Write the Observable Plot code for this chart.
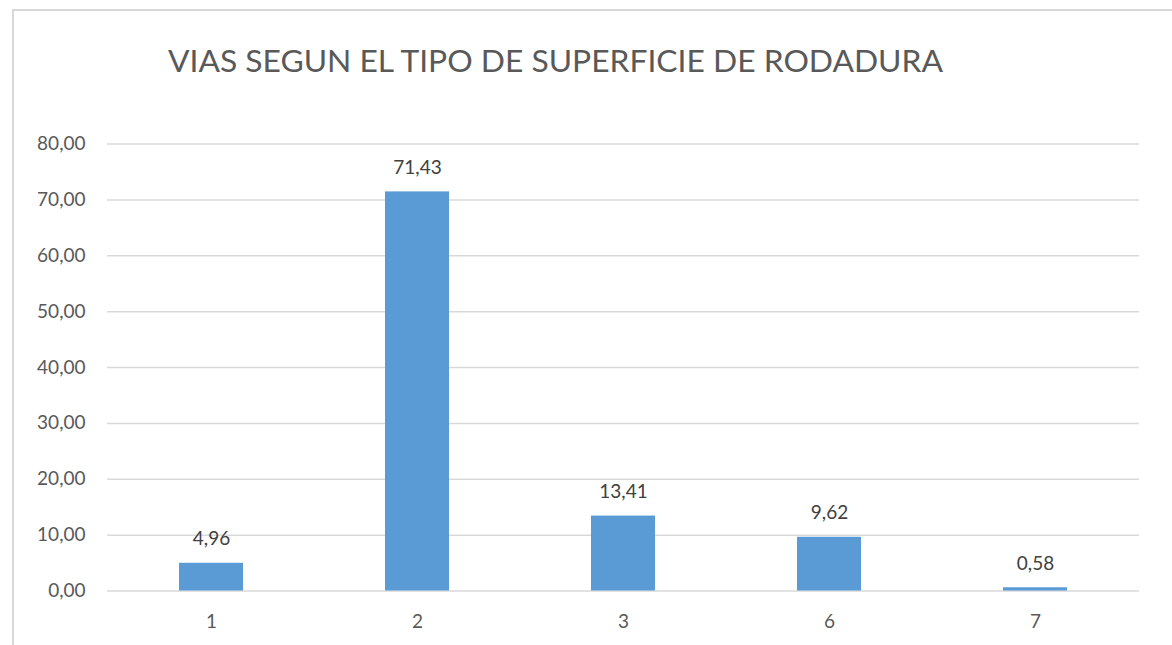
<!DOCTYPE html>
<html>
<head>
<meta charset="utf-8">
<script src="https://cdn.jsdelivr.net/npm/d3@7"></script>
<script src="https://cdn.jsdelivr.net/npm/@observablehq/plot@0.6"></script>
<style>
  html, body { margin: 0; padding: 0; background: #fff; }
  #wrap { position: relative; width: 1172px; height: 645px; overflow: hidden; font-family: Lato, "Open Sans", sans-serif; }
  #frame { position: absolute; left: 12px; top: 9px; width: 1300px; height: 800px; border-left: 2px solid #d9d9d9; border-top: 2px solid #d9d9d9; }
  #title { position: absolute; left: 168px; top: 45px; font-size: 31.8px; color: #595959; white-space: nowrap; line-height: 1; }
  #chart { position: absolute; left: 0; top: 0; }
</style>
</head>
<body>
<div id="wrap">
  <div id="frame"></div>
  <div id="chart"></div>
  <div id="title">VIAS SEGUN EL TIPO DE SUPERFICIE DE RODADURA</div>
</div>
<script>
const categories = ["1", "2", "3", "6", "7"];
const values = [4.96, 71.43, 13.41, 9.62, 0.58];
const yTicks = [0, 10, 20, 30, 40, 50, 60, 70, 80];

const data = categories.map((c, i) => ({ cat: c, value: values[i] }));
const fmt = v => v.toFixed(2).replace(".", ",");

const chart = Plot.plot({
  width: 1172,
  height: 645,
  marginLeft: 107,
  marginRight: 33,
  marginTop: 143.5,
  marginBottom: 54.5,
  style: { fontFamily: "Lato, 'Open Sans', sans-serif", background: "transparent", color: "#595959" },
  x: { domain: categories, paddingInner: 0.69, paddingOuter: 0.345, label: null },
  y: { domain: [0, 80], label: null },
  marks: [
    Plot.gridY(yTicks, { stroke: "#d9d9d9", strokeOpacity: 1, strokeWidth: 1.5 }),
    Plot.axisY(yTicks, { tickSize: 0, tickPadding: 22, tickFormat: fmt, fontSize: 19, fill: "#595959", label: null }),
    Plot.axisX({ tickSize: 0, tickPadding: 23, fontSize: 19, fill: "#595959", label: null }),
    Plot.barY(data, { x: "cat", y: "value", fill: "#5b9bd5" }),
    Plot.text(data, { x: "cat", y: "value", text: d => fmt(d.value), lineAnchor: "bottom", dy: -18, fontSize: 19, fill: "#404040" })
  ]
});
document.getElementById("chart").appendChild(chart);
</script>
</body>
</html>
